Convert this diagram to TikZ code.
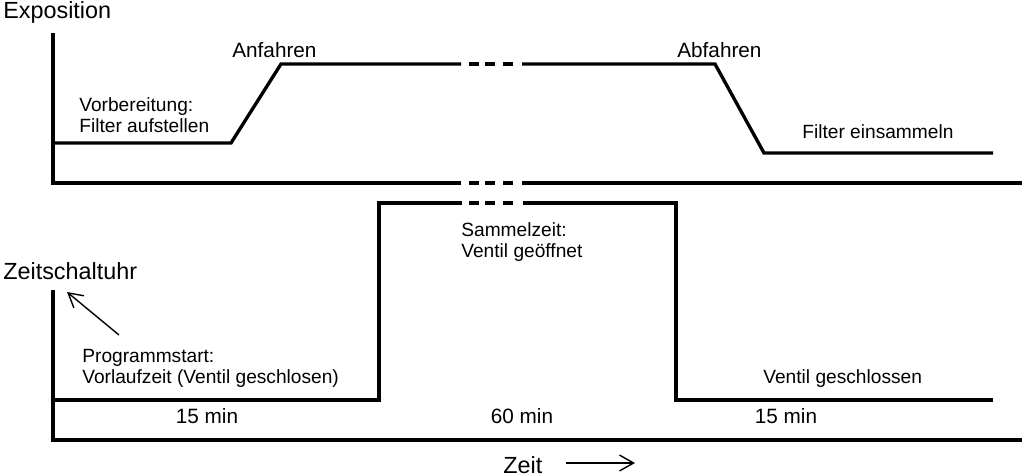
\documentclass[tikz,border=0pt]{standalone}
\usepackage{fontspec}
\setmainfont{Liberation Sans}
\usetikzlibrary{arrows.meta}
\begin{document}
\begin{tikzpicture}[x=0.02cm,y=-0.02cm,
  thick line/.style={line width=1.9pt, line cap=butt, line join=miter},
  thin arrow/.style={line width=0.8pt,-{Straight Barb[length=8pt,width=9pt,line width=0.8pt]}},
  big/.style={font=\fontsize{13.3}{16}\selectfont, inner sep=0pt},
  mid/.style={font=\fontsize{11.8}{14}\selectfont, inner sep=0pt},
  small/.style={font=\fontsize{10.9}{12}\selectfont, inner sep=0pt, align=left},
]
\useasboundingbox (0,0) rectangle (1024,476);
\newcommand\gapdash[1]{\foreach \a/\b in {469/479,485/495,503/513} \draw[thick line] (\a,#1) -- (\b,#1);}
% top panel
\draw[thick line] (53,33) -- (53,183) -- (461,183);
\draw[thick line] (522,183) -- (1022,183);
\draw[thick line] (53,143) -- (231,143) -- (281,64) -- (461,64);
\draw[thick line] (522,64) -- (715,64) -- (764,153) -- (993,153);
\gapdash{64}
\gapdash{183}
% bottom panel
\draw[thick line] (53,290) -- (53,440) -- (1022,440);
\draw[thick line] (53,400) -- (379,400) -- (379,203) -- (462,203);
\draw[thick line] (523,203) -- (676,203) -- (676,400) -- (993,400);
\gapdash{203}
% texts
\node[big,anchor=west] (expo) at (3,12) {Exposition};
\node[mid,anchor=west] (anf) at (232,50) {Anfahren};
\node[mid,anchor=west] (abf) at (677,50) {Abfahren};
\node[small,anchor=west] (vorb) at (79,115) {Vorbereitung:\\Filter aufstellen};
\node[small,anchor=west] (einsam) at (802,132) {Filter einsammeln};
\node[small,anchor=west] (samm) at (461,242) {Sammelzeit:\\Ventil geöffnet};
\node[big,anchor=west] (zsu) at (3,271) {Zeitschaltuhr};
\node[small,anchor=west] (prog) at (82,368) {Programmstart:\\Vorlaufzeit (Ventil geschlosen)};
\node[small,anchor=west] (vg) at (763,379) {Ventil geschlossen};
\node[mid] (m1) at (207,416) {15 min};
\node[mid] (m2) at (522,416) {60 min};
\node[mid] (m3) at (786,416) {15 min};
\node[big,anchor=west] (zeit) at (503,465) {Zeit};
\coordinate (z1) at (566,463);
\coordinate (z2) at (635,463);
\draw[thin arrow] (z1) -- (z2);
\coordinate (p1) at (119,335);
\coordinate (p2) at (67,292);
\draw[thin arrow] (p1) -- (p2);
\end{tikzpicture}
\end{document}
